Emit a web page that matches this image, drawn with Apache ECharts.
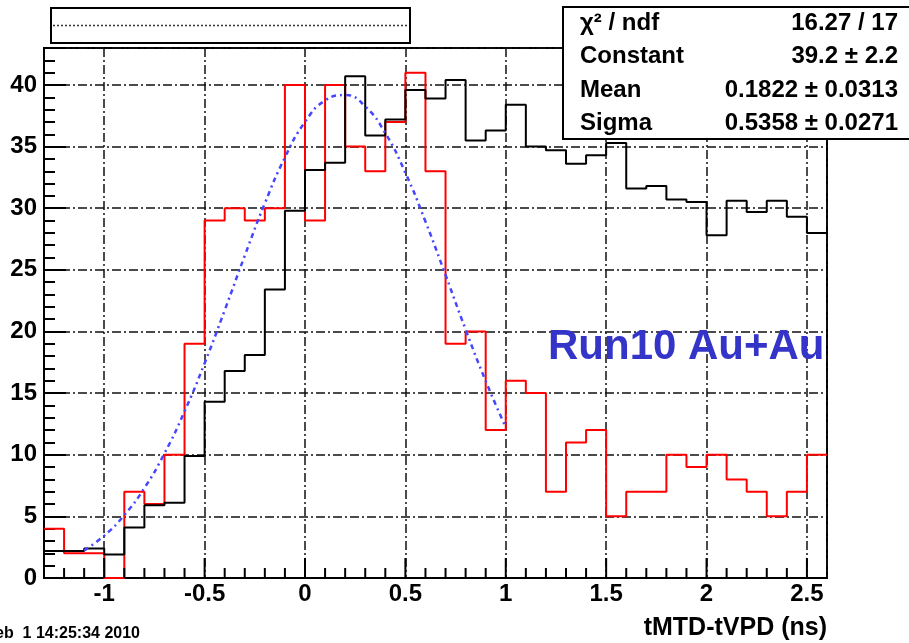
<!DOCTYPE html>
<html>
<head>
<meta charset="utf-8">
<title>tMTD-tVPD</title>
<script src="https://cdn.jsdelivr.net/npm/echarts@6/dist/echarts.min.js"></script>
<style>
  html, body { margin: 0; padding: 0; background: #fff; }
  #chart { width: 909px; height: 643px; }
</style>
</head>
<body>
<div id="chart"></div>
<script>
// Histogram binning: 39 bins of 0.1 ns from -1.3 to 2.6
var binLow = -1.3;
var binWidth = 0.1;

// Red histogram (counts per bin)
var redCounts = [4, 2, 2, 0, 7, 6, 10, 19, 29, 30, 29, 30, 40, 29, 40, 35, 33, 37, 41, 33,
                 19, 20, 12, 16, 15, 7, 11, 12, 5, 7, 7, 10, 9, 10, 8, 7, 5, 7, 10];

// Black histogram (normalised reference distribution)
var blackCounts = [2.2, 2.2, 2.4, 1.9, 4.1, 5.9, 6.1, 9.9, 14.3, 16.8, 18.1, 23.4, 29.8, 33.1,
                   33.7, 40.7, 35.9, 37.2, 39.6, 38.9, 40.4, 35.5, 36.3, 38.4, 35.0, 34.7, 33.6,
                   34.3, 35.3, 31.6, 31.8, 30.7, 30.5, 27.8, 30.6, 29.7, 30.6, 29.3, 28.0];

// Gaussian fit curve sampled over the fit range
var fitX = [-1.1, -1.0, -0.9, -0.8, -0.7, -0.6, -0.5, -0.4, -0.3, -0.2, -0.1, 0.0,
            0.1, 0.2, 0.3, 0.4, 0.5, 0.6, 0.7, 0.8, 0.9, 1.0];
var fitY = [2.24, 3.44, 5.10, 7.30, 10.11, 13.51, 17.43, 21.72, 26.15, 30.40, 34.12, 37.00,
            38.74, 39.18, 38.26, 36.09, 32.88, 28.92, 24.58, 20.16, 15.98, 12.23];

// Fit statistics box
var statNames = ['\u03C7\u00B2 / ndf', 'Constant', 'Mean', 'Sigma'];
var statValues = ['16.27 / 17', '39.2 \u00B1 2.2', '0.1822 \u00B1 0.0313', '0.5358 \u00B1 0.0271'];

var xTitle = 'tMTD-tVPD (ns)';
var runLabel = 'Run10 Au+Au';
var dateStamp = 'Feb  1 14:25:34 2010';

// Turn bin contents into step-line vertices (left edges + closing right edge)
function histPoints(counts) {
  var pts = [];
  for (var i = 0; i < counts.length; i++) {
    pts.push([+(binLow + i * binWidth).toFixed(2), counts[i]]);
  }
  pts.push([+(binLow + counts.length * binWidth).toFixed(2), counts[counts.length - 1]]);
  return pts;
}
var fitPoints = fitX.map(function (x, i) { return [x, fitY[i]]; });

var FONT = 'Liberation Sans, Arial, sans-serif';
var gridRect = { left: 44, top: 48, right: 82, bottom: 65 };
var gridDash = [9, 3, 2, 3];

function isMultiple(v, step) {
  var r = v / step;
  return Math.abs(r - Math.round(r)) < 1e-6;
}

var graphics = [
  // title box with its line
  { type: 'rect', z: 10, shape: { x: 51, y: 8, width: 359, height: 35 },
    style: { fill: '#fff', stroke: '#000', lineWidth: 2 } },
  { type: 'line', z: 11, shape: { x1: 53, y1: 25.5, x2: 408, y2: 25.5 },
    style: { stroke: '#333', lineWidth: 1.5, lineDash: [2, 2] } },
  // statistics box
  { type: 'rect', z: 10, shape: { x: 563, y: 7, width: 360, height: 132 },
    style: { fill: '#fff', stroke: '#000', lineWidth: 2 } },
  { type: 'text', z: 12, x: 548, y: 347,
    style: { text: runLabel, fill: '#3434c8', font: 'bold 42px ' + FONT,
             align: 'left', verticalAlign: 'middle' } },
  { type: 'text', z: 12, x: 827, y: 628,
    style: { text: xTitle, fill: '#000', font: 'bold 25px ' + FONT,
             align: 'right', verticalAlign: 'middle' } },
  { type: 'text', z: 12, x: 140, y: 634,
    style: { text: dateStamp, fill: '#000', font: 'bold 16px ' + FONT,
             align: 'right', verticalAlign: 'middle' } }
];
var rowY = [23, 56.5, 90, 123.5];
for (var i = 0; i < statNames.length; i++) {
  graphics.push({ type: 'text', z: 12, x: 580, y: rowY[i],
    style: { text: statNames[i], fill: '#000', font: 'bold 24px ' + FONT,
             align: 'left', verticalAlign: 'middle' } });
  graphics.push({ type: 'text', z: 12, x: 898, y: rowY[i],
    style: { text: statValues[i], fill: '#000', font: 'bold 24px ' + FONT,
             align: 'right', verticalAlign: 'middle' } });
}

var chart = echarts.init(document.getElementById('chart'), null, { renderer: 'canvas' });
chart.setOption({
  animation: false,
  backgroundColor: '#fff',
  grid: [
    Object.assign({ show: true, borderColor: '#000', borderWidth: 2, backgroundColor: 'transparent' }, gridRect),
    Object.assign({ show: false }, gridRect)
  ],
  xAxis: [
    {
      type: 'value', gridIndex: 0, min: -1.3, max: 2.6,
      minInterval: 0.5, maxInterval: 0.5,
      axisLine: { show: true, onZero: false, lineStyle: { color: '#000', width: 2 } },
      axisTick: { show: false },
      axisLabel: {
        margin: 4, color: '#000', fontFamily: FONT, fontSize: 24, fontWeight: 'bold',
        formatter: function (v) { return isMultiple(v, 0.5) ? String(+v.toFixed(2)) : ''; }
      },
      splitLine: { show: true, lineStyle: { color: '#111', width: 1.5, type: gridDash } }
    },
    {
      type: 'value', gridIndex: 1, show: false, min: -1.3, max: 2.6
    }
  ],
  yAxis: [
    {
      type: 'value', gridIndex: 0, min: 0, max: 43, interval: 5,
      axisLine: { show: true, onZero: false, lineStyle: { color: '#000', width: 2 } },
      axisTick: { show: true, inside: true, length: 22, lineStyle: { color: '#000', width: 2 } },
      axisLabel: {
        margin: 7, color: '#000', fontFamily: FONT, fontSize: 24, fontWeight: 'bold',
        formatter: function (v) { return isMultiple(v, 5) ? String(v) : ''; }
      },
      splitLine: { show: true, lineStyle: { color: '#111', width: 1.5, type: gridDash } }
    },
    {
      // minor ticks every unit
      type: 'value', gridIndex: 1, position: 'left', min: 0, max: 43, interval: 1,
      axisLine: { show: false, onZero: false },
      axisTick: { show: true, inside: true, length: 11, lineStyle: { color: '#000', width: 2 } },
      axisLabel: { show: false },
      splitLine: { show: false }
    }
  ],
  series: [
    {
      name: 'red', type: 'line', xAxisIndex: 0, yAxisIndex: 0, step: 'end',
      data: histPoints(redCounts), showSymbol: false, symbol: 'none',
      lineStyle: { color: '#ff0000', width: 2 }, z: 3
    },
    {
      name: 'black', type: 'line', xAxisIndex: 0, yAxisIndex: 0, step: 'end',
      data: histPoints(blackCounts), showSymbol: false, symbol: 'none',
      lineStyle: { color: '#000', width: 2 }, z: 4
    },
    {
      name: 'fit', type: 'line', xAxisIndex: 0, yAxisIndex: 0, smooth: true,
      data: fitPoints, showSymbol: false, symbol: 'none',
      lineStyle: { color: '#4646ff', width: 2.5, type: [5, 4, 2, 4] }, z: 5
    }
  ],
  graphic: graphics
});

// x-axis ticks at each bin edge (longer at labelled values), positioned through the axis scales
try {
  var yBase = chart.convertToPixel({ yAxisIndex: 0 }, 0);
  var tickGraphics = [];
  for (var e = 1; e < redCounts.length; e++) {
    var xv = +(binLow + e * binWidth).toFixed(2);
    var px = chart.convertToPixel({ xAxisIndex: 0 }, xv);
    var len = isMultiple(xv, 0.5) ? 20 : 10;
    tickGraphics.push({ type: 'line', z: 20, silent: true,
      shape: { x1: px, y1: yBase, x2: px, y2: yBase - len },
      style: { stroke: '#000', lineWidth: 2 } });
  }
  chart.setOption({ graphic: graphics.concat(tickGraphics) });
} catch (err) {
  console.error(err);
}
</script>
</body>
</html>
